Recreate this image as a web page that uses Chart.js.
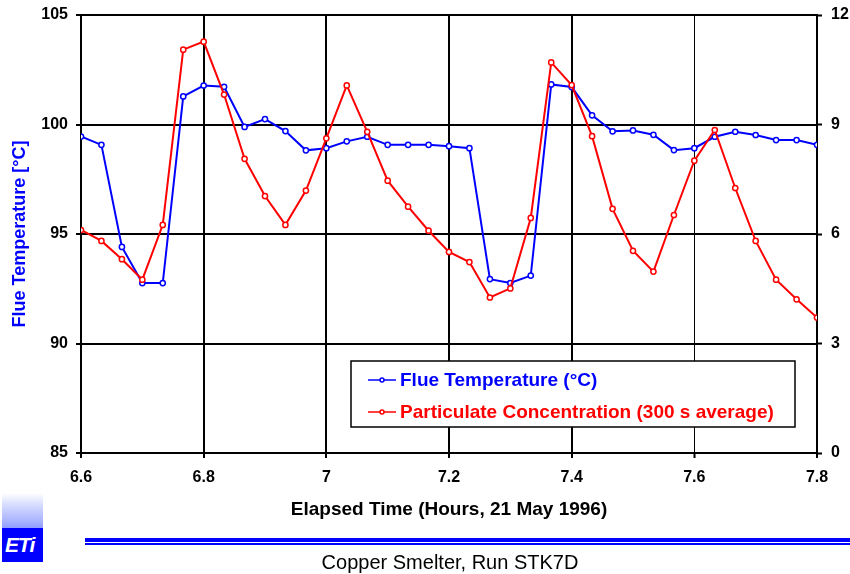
<!DOCTYPE html>
<html>
<head>
<meta charset="utf-8">
<script src="https://cdn.jsdelivr.net/npm/chart.js"></script>
<style>
    html, body { margin: 0; padding: 0; background: #fff; }
    #wrap { position: relative; width: 850px; height: 574px; }
    #chart { position: absolute; left: 0; top: 0; }
    .logo {
        position: absolute; left: 2px; top: 493px; width: 41px; height: 69px;
        background: linear-gradient(to bottom, #ffffff 0px, #d6dcff 12px, #a9b4ff 28px, #8f9cff 35px, #0000ff 35px, #0000ff 69px);
    }
    .logo span {
        position: absolute; left: 3px; top: 40px; color: #fff;
        font: italic bold 21px "Liberation Sans", Arial, sans-serif; letter-spacing: -1px;
    }
    .rule1 { position: absolute; left: 85px; top: 538px; width: 765px; height: 4px; background: #0000ff; }
    .rule2 { position: absolute; left: 85px; top: 543px; width: 765px; height: 2px; background: #0000ff; }
    .caption {
        position: absolute; left: 0; top: 551px; width: 900px; text-align: center;
        font: 20px "Liberation Sans", Arial, sans-serif; color: #000;
    }
</style>
</head>
<body>
<div id="wrap">
    <canvas id="chart" width="850" height="574"></canvas>
    <div class="logo"><span>ETi</span></div>
    <div class="rule1"></div>
    <div class="rule2"></div>
    <div class="caption">Copper Smelter, Run STK7D</div>
</div>
<script>
// elapsed time, hours (one reading every 2 minutes)
const elapsedHours = [6.6, 6.6333, 6.6667, 6.7, 6.7333, 6.7667, 6.8, 6.8333, 6.8667, 6.9,
    6.9333, 6.9667, 7.0, 7.0333, 7.0667, 7.1, 7.1333, 7.1667, 7.2, 7.2333,
    7.2667, 7.3, 7.3333, 7.3667, 7.4, 7.4333, 7.4667, 7.5, 7.5333, 7.5667,
    7.6, 7.6333, 7.6667, 7.7, 7.7333, 7.7667, 7.8];

const flueTemp = [99.45, 99.07, 94.41, 92.76, 92.76, 101.28, 101.78, 101.72, 99.89, 100.25,
    99.70, 98.82, 98.92, 99.23, 99.44, 99.07, 99.07, 99.07, 99.01, 98.92,
    92.94, 92.76, 93.10, 101.83, 101.71, 100.42, 99.69, 99.73, 99.53, 98.83,
    98.92, 99.44, 99.67, 99.52, 99.29, 99.29, 99.07];

const particulate = [6.11, 5.81, 5.31, 4.75, 6.25, 11.05, 11.27, 9.82, 8.06, 7.04,
    6.25, 7.19, 8.62, 10.07, 8.80, 7.46, 6.75, 6.09, 5.51, 5.23,
    4.26, 4.51, 6.44, 10.70, 10.08, 8.68, 6.69, 5.54, 4.97, 6.52,
    8.01, 8.85, 7.26, 5.81, 4.75, 4.21, 3.71];

const xTicks = [6.6, 6.8, 7.0, 7.2, 7.4, 7.6, 7.8];
const tempTicks = [85, 90, 95, 100, 105];
const concTicks = [0, 3, 6, 9, 12];

const FONT = '"Liberation Sans", Arial, sans-serif';

function toPoints(xs, ys) {
    return xs.map((x, i) => ({ x: x, y: ys[i] }));
}

function fixedTicks(list) {
    return function (scale) {
        scale.ticks = list.map(v => ({ value: v }));
    };
}

// fixed width for the vertical axes, no extra room for label overflow
function fixWidth(w) {
    return function (scale) {
        scale.width = w;
        scale.paddingTop = 0;
        scale.paddingBottom = 0;
    };
}

// boxed legend inside the plot, drawn from the dataset labels/colours
const boxLegend = {
    id: 'boxLegend',
    afterDraw(chart) {
        const ctx = chart.ctx;
        const x0 = 351, y0 = 361, w = 444, h = 66;
        ctx.save();
        ctx.fillStyle = '#fff';
        ctx.fillRect(x0, y0, w, h);
        ctx.strokeStyle = '#000';
        ctx.lineWidth = 1.5;
        ctx.strokeRect(x0, y0, w, h);
        const rows = [chart.data.datasets[0], chart.data.datasets[1]];
        rows.forEach((ds, i) => {
            const cy = y0 + 19 + i * 32;
            ctx.strokeStyle = ds.borderColor;
            ctx.lineWidth = 1.5;
            ctx.beginPath();
            ctx.moveTo(368, cy);
            ctx.lineTo(396, cy);
            ctx.stroke();
            ctx.beginPath();
            ctx.arc(382, cy, 2, 0, Math.PI * 2);
            ctx.fillStyle = '#fff';
            ctx.fill();
            ctx.stroke();
            ctx.fillStyle = ds.borderColor;
            ctx.font = 'bold 19px ' + FONT;
            ctx.textBaseline = 'middle';
            ctx.textAlign = 'left';
            ctx.fillText(ds.label, 400, cy + 1);
        });
        ctx.restore();
    }
};

const ctx = document.getElementById('chart').getContext('2d');
new Chart(ctx, {
    type: 'line',
    data: {
        datasets: [{
            label: 'Flue Temperature (°C)',
            data: toPoints(elapsedHours, flueTemp),
            yAxisID: 'yTemp',
            borderColor: '#0000ff',
            backgroundColor: '#ffffff',
            pointBackgroundColor: '#ffffff',
            borderWidth: 2,
            pointRadius: 2.6,
            pointBorderWidth: 1.5,
            tension: 0,
            order: 1,
        }, {
            label: 'Particulate Concentration (300 s average)',
            data: toPoints(elapsedHours, particulate),
            yAxisID: 'yConc',
            borderColor: '#ff0000',
            backgroundColor: '#ffffff',
            pointBackgroundColor: '#ffffff',
            borderWidth: 2,
            pointRadius: 2.6,
            pointBorderWidth: 1.5,
            tension: 0,
            order: 0,
        }]
    },
    options: {
        responsive: false,
        animation: false,
        layout: { padding: { top: 15, right: 0, bottom: 50, left: 0 } },
        plugins: {
            legend: { display: false },
            tooltip: { enabled: false },
        },
        scales: {
            x: {
                type: 'linear',
                min: 6.6,
                max: 7.8,
                afterBuildTicks: fixedTicks(xTicks),
                afterFit(scale) { scale.height = 71; },
                border: { color: '#000', width: 2 },
                grid: {
                    color: '#000',
                    lineWidth: c => (Math.abs(c.tick.value - 7.6) < 0.01 ? 1 : 2),
                    tickLength: 5,
                    tickColor: '#000',
                    tickWidth: 2,
                },
                ticks: {
                    color: '#000',
                    padding: 10,
                    maxRotation: 0,
                    font: { family: FONT, size: 16, weight: 'bold' },
                    callback: v => String(Math.round(v * 10) / 10),
                },
                title: {
                    display: true,
                    text: 'Elapsed Time (Hours, 21 May 1996)',
                    color: '#000',
                    font: { family: FONT, size: 19, weight: 'bold' },
                    padding: { top: 0, bottom: 3 },
                },
            },
            yTemp: {
                type: 'linear',
                position: 'left',
                min: 85,
                max: 105,
                afterBuildTicks: fixedTicks(tempTicks),
                afterFit: fixWidth(81),
                border: { color: '#000', width: 2 },
                grid: {
                    color: '#000',
                    lineWidth: 2,
                    tickLength: 5,
                    tickColor: '#000',
                    tickWidth: 2,
                },
                ticks: {
                    color: '#000',
                    padding: 8,
                    font: { family: FONT, size: 16, weight: 'bold' },
                },
                title: {
                    display: true,
                    text: 'Flue Temperature [°C]',
                    color: '#0000ff',
                    font: { family: FONT, size: 18, weight: 'bold' },
                    padding: { top: 9, bottom: 0 },
                },
            },
            yConc: {
                type: 'linear',
                position: 'right',
                min: 0,
                max: 12,
                afterBuildTicks: fixedTicks(concTicks),
                afterFit: fixWidth(33),
                border: { color: '#000', width: 2 },
                grid: {
                    drawOnChartArea: false,
                    tickLength: 5,
                    tickColor: '#000',
                    tickWidth: 2,
                },
                ticks: {
                    color: '#000',
                    padding: 9,
                    font: { family: FONT, size: 16, weight: 'bold' },
                },
            },
        }
    },
    plugins: [boxLegend]
});
</script>
</body>
</html>
